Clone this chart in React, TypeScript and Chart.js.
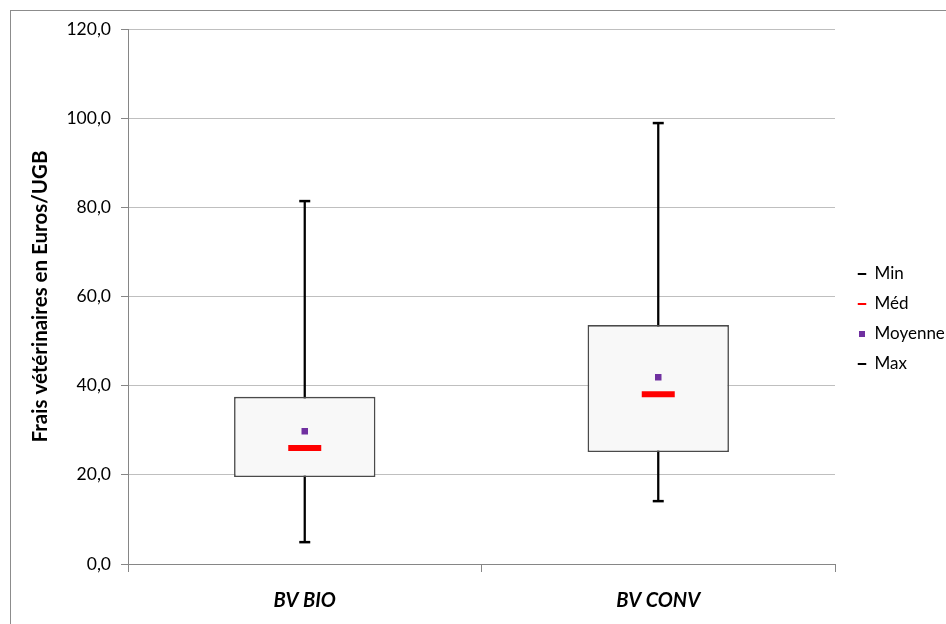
import React, { useEffect, useRef } from 'react';
import { Chart, registerables } from 'chart.js';

Chart.register(...registerables);

const categories = ['BV BIO', 'BV CONV'];
const minValues = [4.9, 14.1];
const q1Values = [19.5, 25.1];
const medianValues = [26.0, 38.1];
const meanValues = [29.8, 41.9];
const q3Values = [37.5, 53.6];
const maxValues = [81.4, 98.9];
const yTickLabels = ['0,0', '20,0', '40,0', '60,0', '80,0', '100,0', '120,0'];
const legendLabels = ['Min', 'Méd', 'Moyenne', 'Max'];
const yTitle = 'Frais vétérinaires en Euros/UGB';

const FONT = 'Lato';

export default function App() {
  const ref = useRef<HTMLCanvasElement>(null);

  useEffect(() => {
    const canvas = ref.current;
    if (!canvas) return;
    const chart = new Chart(canvas, {
      type: 'bar',
      data: {
        labels: categories,
        datasets: [
          {
            type: 'bar',
            label: 'whisker',
            data: categories.map((_, i) => [minValues[i], maxValues[i]]) as any,
            backgroundColor: '#000000',
            borderWidth: 0,
            barThickness: 1.6,
            grouped: false,
            order: 10,
          } as any,
          {
            type: 'bar',
            label: 'box',
            data: categories.map((_, i) => [q1Values[i], q3Values[i]]) as any,
            backgroundColor: '#f8f8f8',
            borderColor: '#4a4a4a',
            borderWidth: 1.6,
            borderSkipped: false,
            barPercentage: 0.4,
            categoryPercentage: 1,
            grouped: false,
            order: 9,
          } as any,
          {
            type: 'line',
            label: legendLabels[0],
            data: minValues,
            showLine: false,
            pointStyle: 'line',
            pointRadius: 5.5,
            pointBorderWidth: 2.5,
            pointBorderColor: '#000000',
            pointBackgroundColor: '#000000',
            borderColor: '#000000',
            backgroundColor: '#000000',
            order: 1,
          } as any,
          {
            type: 'line',
            label: legendLabels[1],
            data: medianValues,
            showLine: false,
            pointStyle: 'line',
            pointRadius: 16.5,
            pointBorderWidth: 6,
            pointBorderColor: '#ff0000',
            pointBackgroundColor: '#ff0000',
            borderColor: '#ff0000',
            backgroundColor: '#ff0000',
            order: 1,
          } as any,
          {
            type: 'line',
            label: legendLabels[2],
            data: meanValues,
            showLine: false,
            pointStyle: 'rect',
            pointRadius: 4.6,
            pointBorderWidth: 0,
            pointBorderColor: '#7030a0',
            pointBackgroundColor: '#7030a0',
            borderColor: '#7030a0',
            backgroundColor: '#7030a0',
            order: 1,
          } as any,
          {
            type: 'line',
            label: legendLabels[3],
            data: maxValues,
            showLine: false,
            pointStyle: 'line',
            pointRadius: 5.5,
            pointBorderWidth: 2.5,
            pointBorderColor: '#000000',
            pointBackgroundColor: '#000000',
            borderColor: '#000000',
            backgroundColor: '#000000',
            order: 1,
          } as any,
        ],
      },
      options: {
        responsive: false,
        animation: false,
        devicePixelRatio: 1,
        events: [],
        layout: { padding: { left: 10, top: 29, right: 0, bottom: 15 } },
        plugins: {
          tooltip: { enabled: false },
          legend: {
            position: 'right',
            maxWidth: 101,
            onClick: () => {},
            labels: {
              usePointStyle: true,
              boxWidth: 8,
              boxHeight: 6,
              padding: 13,
              color: '#000000',
              font: { family: FONT, size: 17 },
              generateLabels: (c: any) =>
                c.data.datasets.slice(2).map((ds: any, i: number) => ({
                  text: ds.label,
                  datasetIndex: i + 2,
                  fillStyle: ds.pointBackgroundColor,
                  strokeStyle: ds.pointBorderColor,
                  lineWidth: ds.pointStyle === 'rect' ? 0 : 2,
                  pointStyle: ds.pointStyle,
                  hidden: false,
                  fontColor: '#000000',
                })),
            },
          },
        },
        scales: {
          x: {
            type: 'category',
            offset: true,
            grid: {
              offset: true,
              drawOnChartArea: false,
              drawTicks: true,
              tickLength: 8,
              color: '#868686',
              tickColor: '#868686',
            },
            border: { display: true, color: '#868686', width: 1 },
            ticks: {
              padding: 17,
              color: '#000000',
              font: { family: FONT, size: 20, weight: 'bold', style: 'italic' },
            },
            afterFit: (s: any) => {
              s.height = 45;
            },
          },
          y: {
            type: 'linear',
            position: 'left',
            min: 0,
            max: 120,
            ticks: {
              stepSize: 20,
              padding: 10,
              color: '#000000',
              font: { family: FONT, size: 17.5 },
              callback: (_v: any, i: number) => yTickLabels[i],
            },
            grid: {
              color: '#bfbfbf',
              tickColor: '#868686',
              tickLength: 7,
              lineWidth: 1,
            },
            border: { display: true, color: '#868686', width: 1 },
            title: {
              display: true,
              text: yTitle,
              color: '#000000',
              padding: { top: 18, bottom: 0 },
              font: { family: FONT, size: 20.5, weight: 'bold' },
            },
            afterFit: (s: any) => {
              s.width = 118;
            },
          },
          y2: {
            type: 'linear',
            position: 'right',
            display: true,
            grid: { display: false, drawOnChartArea: false, drawTicks: false },
            border: { display: false },
            ticks: { display: false },
            afterFit: (s: any) => {
              s.width = 10;
            },
          },
        },
      } as any,
    });
    return () => chart.destroy();
  }, []);

  return (
    <div
      style={{
        position: 'fixed',
        left: 0,
        top: 0,
        width: 946,
        height: 624,
        overflow: 'hidden',
        background: '#ffffff',
      }}
    >
      <div
        style={{
          position: 'absolute',
          left: 10,
          top: 10,
          width: 1000,
          height: 700,
          border: '1px solid #8c8c8c',
        }}
      />
      <canvas
        ref={ref}
        width={946}
        height={624}
        style={{ position: 'absolute', left: 0, top: 0, width: 946, height: 624 }}
      />
    </div>
  );
}
